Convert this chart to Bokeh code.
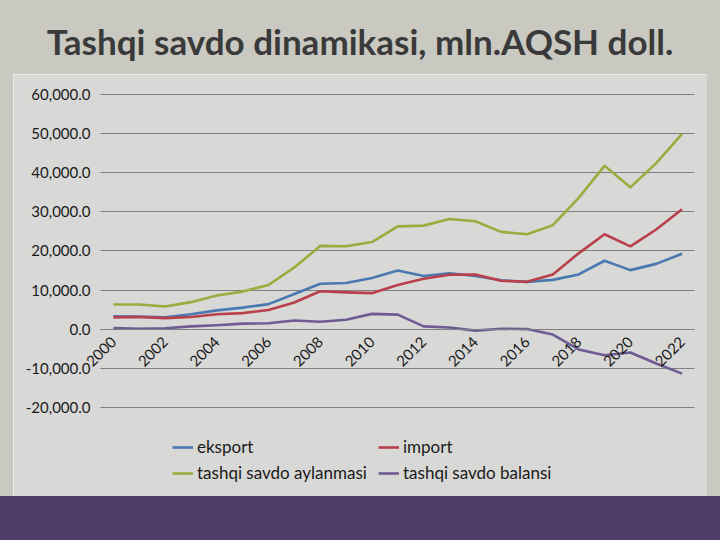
from math import pi
from bokeh.plotting import figure
from bokeh.models import Range1d, FixedTicker, NumeralTickFormatter, Legend, LegendItem, Div
from bokeh.layouts import column, row
from bokeh.embed import file_html
from bokeh.resources import INLINE

# ---- data (mln. USD) ----
years = list(range(2000, 2023))
eksport = [3300, 3200, 3000, 3800, 4800, 5500, 6400, 9000, 11600, 11800, 13100, 15000,
           13600, 14300, 13600, 12500, 12100, 12600, 14000, 17500, 15100, 16700, 19300]
import_ = [3000, 3100, 2800, 3100, 3800, 4100, 4900, 6800, 9700, 9400, 9200, 11300,
           12900, 13900, 14000, 12400, 12100, 14000, 19400, 24300, 21200, 25500, 30700]
aylanma = [6300, 6300, 5800, 6900, 8600, 9600, 11300, 15800, 21300, 21200, 22300, 26300,
           26500, 28200, 27600, 24900, 24300, 26600, 33600, 41800, 36300, 42500, 50000]
balans = [300, 100, 200, 700, 1000, 1400, 1500, 2200, 1900, 2400, 3900, 3700,
          700, 400, -400, 100, 0, -1400, -5200, -6700, -6000, -8800, -11400]
series_names = ["eksport", "import", "tashqi savdo aylanmasi", "tashqi savdo balansi"]
x_tick_years = years[::2]
y_ticks = [-20000, -10000, 0, 10000, 20000, 30000, 40000, 50000, 60000]
title_text = "Tashqi savdo dinamikasi, mln.AQSH doll."

# ---- styles ----
OUTER = "#c9c9c1"
CHART = "#d8d8d6"
PURPLE = "#4f3d69"
colors = ["#4a78b0", "#b9404a", "#9aac3e", "#6f5b94"]
FONT = "Lato"

x_lo, x_hi = years[0] - 0.5, years[-1] + 0.5

p = figure(width=694, height=422,
           x_range=Range1d(1996.134, 2022.984), y_range=Range1d(-42870, 65199),
           output_backend="svg", toolbar_location=None,
           min_border_left=0, min_border_right=0, min_border_top=0, min_border_bottom=0,
           background_fill_color=CHART, border_fill_color=CHART, outline_line_color=None)

renderers = []
for vals, c in zip([eksport, import_, aylanma, balans], colors):
    r = p.line(years, vals, line_color=c, line_width=2.6, line_join="round")
    renderers.append(r)

# x axis at zero
p.xaxis.fixed_location = 0
p.xaxis.bounds = (x_lo, x_hi)
p.xaxis.ticker = FixedTicker(ticks=x_tick_years)
p.xaxis.major_label_orientation = pi / 4
p.xaxis.axis_line_color = "#808080"
p.xaxis.major_tick_line_color = None
p.xaxis.minor_tick_line_color = None
p.xaxis.major_label_text_font = FONT
p.xaxis.major_label_text_font_size = "15px"
p.xaxis.major_label_text_color = "#1a1a1a"
p.xaxis.major_label_standoff = 4
p.xgrid.visible = False

yt = FixedTicker(ticks=y_ticks)
p.yaxis.fixed_location = x_lo
p.yaxis.ticker = yt
p.ygrid.ticker = yt
p.yaxis.formatter = NumeralTickFormatter(format="0,0.0")
p.yaxis.axis_line_color = None
p.yaxis.major_tick_line_color = None
p.yaxis.minor_tick_line_color = None
p.yaxis.major_label_text_font = FONT
p.yaxis.major_label_text_font_size = "15px"
p.yaxis.major_label_text_color = "#1a1a1a"
p.yaxis.major_label_standoff = 4
p.ygrid.grid_line_color = "#808080"
p.ygrid.grid_line_width = 1
try:
    p.ygrid.cross_bounds = (x_lo, x_hi)
except Exception:
    pass

legend = Legend(items=[LegendItem(label=n, renderers=[r]) for n, r in zip(series_names, renderers)],
                orientation="horizontal", ncols=2, location=(159, 13),
                background_fill_alpha=0, border_line_color=None,
                label_text_font=FONT, label_text_font_size="17px", label_text_color="#1a1a1a",
                glyph_width=21, glyph_height=12, label_height=12, label_width=176,
                label_standoff=4, spacing=5, padding=0, margin=0)
p.add_layout(legend)

title = Div(text=f'<div style="width:720px;text-align:center;font-family:Lato;font-weight:bold;'
                 f'font-size:35px;color:#3a3a3a;padding-top:20px;line-height:1.2;">{title_text}</div>',
            width=720, height=74, margin=0, styles={"background-color": OUTER})
left = Div(text="", width=13, height=422, margin=0, styles={"background-color": OUTER})
right = Div(text="", width=13, height=422, margin=0, styles={"background-color": OUTER})
bottom = Div(text='<div style="height:2px;background:#cfcac6"></div>'
                  '<div style="height:2px;background:#6c5a88"></div>',
             width=720, height=44, margin=0, styles={"background-color": PURPLE})

layout = column(title, row(left, p, right, spacing=0), bottom, spacing=0)

open("out.html", "w").write(file_html(layout, INLINE))
